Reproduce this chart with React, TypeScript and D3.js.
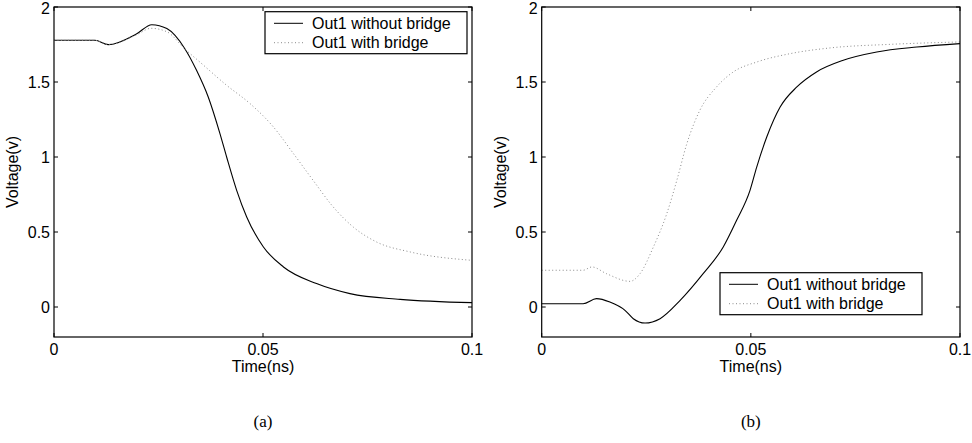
import React from 'react';
import * as d3 from 'd3';

type Pt = [number, number];

// left panel (a): falling output
const timeA1: number[] = [0, 0.0098, 0.013, 0.0198, 0.0234, 0.027, 0.0313, 0.0341, 0.0369, 0.0397, 0.0413, 0.0437, 0.0461, 0.0501, 0.0549, 0.0628, 0.0708, 0.0828, 0.1];
const withoutA: number[] = [1.778, 1.778, 1.749, 1.822, 1.882, 1.856, 1.722, 1.578, 1.40, 1.156, 1.0, 0.778, 0.6, 0.40, 0.267, 0.156, 0.089, 0.051, 0.029];
const timeA2: number[] = [0, 0.0098, 0.013, 0.0198, 0.0232, 0.027, 0.0313, 0.0349, 0.0413, 0.0469, 0.0525, 0.0573, 0.062, 0.0668, 0.0716, 0.0772, 0.0852, 0.1];
const withA: number[] = [1.778, 1.778, 1.749, 1.815, 1.858, 1.835, 1.72, 1.633, 1.478, 1.356, 1.2, 1.022, 0.844, 0.667, 0.533, 0.433, 0.367, 0.311];

// right panel (b): rising output
const timeB1: number[] = [0, 0.0099, 0.0131, 0.0163, 0.0199, 0.0219, 0.0247, 0.0283, 0.0331, 0.0386, 0.0434, 0.0466, 0.0498, 0.0514, 0.0538, 0.057, 0.061, 0.0657, 0.0721, 0.0801, 0.0897, 0.1];
const withoutB: number[] = [0.022, 0.022, 0.056, 0.033, -0.022, -0.078, -0.107, -0.078, 0.044, 0.222, 0.4, 0.578, 0.778, 0.933, 1.133, 1.333, 1.467, 1.567, 1.645, 1.70, 1.733, 1.756];
const timeB2: number[] = [0, 0.0099, 0.012, 0.0155, 0.0211, 0.0235, 0.0267, 0.0299, 0.0323, 0.0347, 0.0378, 0.0418, 0.0458, 0.0514, 0.0594, 0.0689, 0.0833, 0.1];
const withB: number[] = [0.245, 0.245, 0.267, 0.222, 0.171, 0.222, 0.4, 0.622, 0.844, 1.089, 1.311, 1.467, 1.567, 1.633, 1.689, 1.727, 1.751, 1.767];

const xTicks: number[] = [0, 0.05, 0.1];
const yTicks: number[] = [0, 0.5, 1, 1.5, 2];
const legendLabels: string[] = ['Out1 without bridge', 'Out1 with bridge'];

const FONT = '"Liberation Sans", Arial, sans-serif';
const FS = 16;

const zip = (t: number[], v: number[]): Pt[] => t.map((d, i) => [d, v[i]]);

interface PanelProps {
  left: number;
  right: number;
  solid: Pt[];
  dotted: Pt[];
  legend: { x: number; y: number };
  caption: string;
}

const Panel = ({ left, right, solid, dotted, legend, caption }: PanelProps) => {
  const x = d3.scaleLinear().domain([0, 0.1]).range([left, right]);
  const y = d3.scaleLinear().domain([-0.2, 2]).range([337, 7]);
  const line = d3.line<Pt>()
    .x(d => x(d[0]))
    .y(d => y(d[1]))
    .curve(d3.curveMonotoneX);
  const top = y(2);
  const bottom = y(-0.2);
  const tick = 4;

  return (
    <g>
      <path d={line(solid) ?? ''} fill="none" stroke="#000" strokeWidth={1.1} />
      <path d={line(dotted) ?? ''} fill="none" stroke="#8a8a8a" strokeWidth={1} strokeDasharray="1,2.5" />

      {/* box frame */}
      <rect x={left} y={top} width={right - left} height={bottom - top} fill="none" stroke="#000" strokeWidth={1.2} />

      {xTicks.map(t => (
        <g key={'x' + t}>
          <line x1={x(t)} x2={x(t)} y1={bottom} y2={bottom - tick} stroke="#000" />
          <line x1={x(t)} x2={x(t)} y1={top} y2={top + tick} stroke="#000" />
          <text x={x(t)} y={355} textAnchor="middle" fontSize={FS} fontFamily={FONT}>{t}</text>
        </g>
      ))}
      {yTicks.map(v => (
        <g key={'y' + v}>
          <line x1={left} x2={left + tick} y1={y(v)} y2={y(v)} stroke="#000" />
          <line x1={right} x2={right - tick} y1={y(v)} y2={y(v)} stroke="#000" />
          <text x={left - 4} y={Math.max(y(v), 8)} dy="0.36em" textAnchor="end" fontSize={FS} fontFamily={FONT}>{v}</text>
        </g>
      ))}

      <text x={(left + right) / 2} y={372} textAnchor="middle" fontSize={FS} fontFamily={FONT}>Time(ns)</text>
      <text transform={`translate(${left - 36},172) rotate(-90)`} textAnchor="middle" fontSize={FS} fontFamily={FONT}>Voltage(v)</text>

      {/* legend */}
      <g transform={`translate(${legend.x},${legend.y})`}>
        <rect x={0} y={0} width={202} height={42} fill="#fff" stroke="#000" strokeWidth={1.2} />
        {legendLabels.map((lab, i) => (
          <g key={lab} transform={`translate(0,${11.6 + i * 19.4})`}>
            <line x1={9} x2={38} y1={0} y2={0} stroke={i === 0 ? '#000' : '#8a8a8a'} strokeWidth={1} strokeDasharray={i === 0 ? undefined : '1,2.5'} />
            <text x={47} y={0} dy="0.36em" fontSize={FS} fontFamily={FONT}>{lab}</text>
          </g>
        ))}
      </g>

      <text x={x(0.05)} y={427} textAnchor="middle" fontSize={17} fontFamily='"Liberation Serif", "DejaVu Serif", serif'>{caption}</text>
    </g>
  );
};

export default function App() {
  return (
    <svg width={972} height={443} style={{ position: 'absolute', left: 0, top: 0, background: '#fff' }}>
      <Panel left={54} right={472} solid={zip(timeA1, withoutA)} dotted={zip(timeA2, withA)} legend={{ x: 265, y: 11.7 }} caption="(a)" />
      <Panel left={541.7} right={960} solid={zip(timeB1, withoutB)} dotted={zip(timeB2, withB)} legend={{ x: 720, y: 272.7 }} caption="(b)" />
    </svg>
  );
}
